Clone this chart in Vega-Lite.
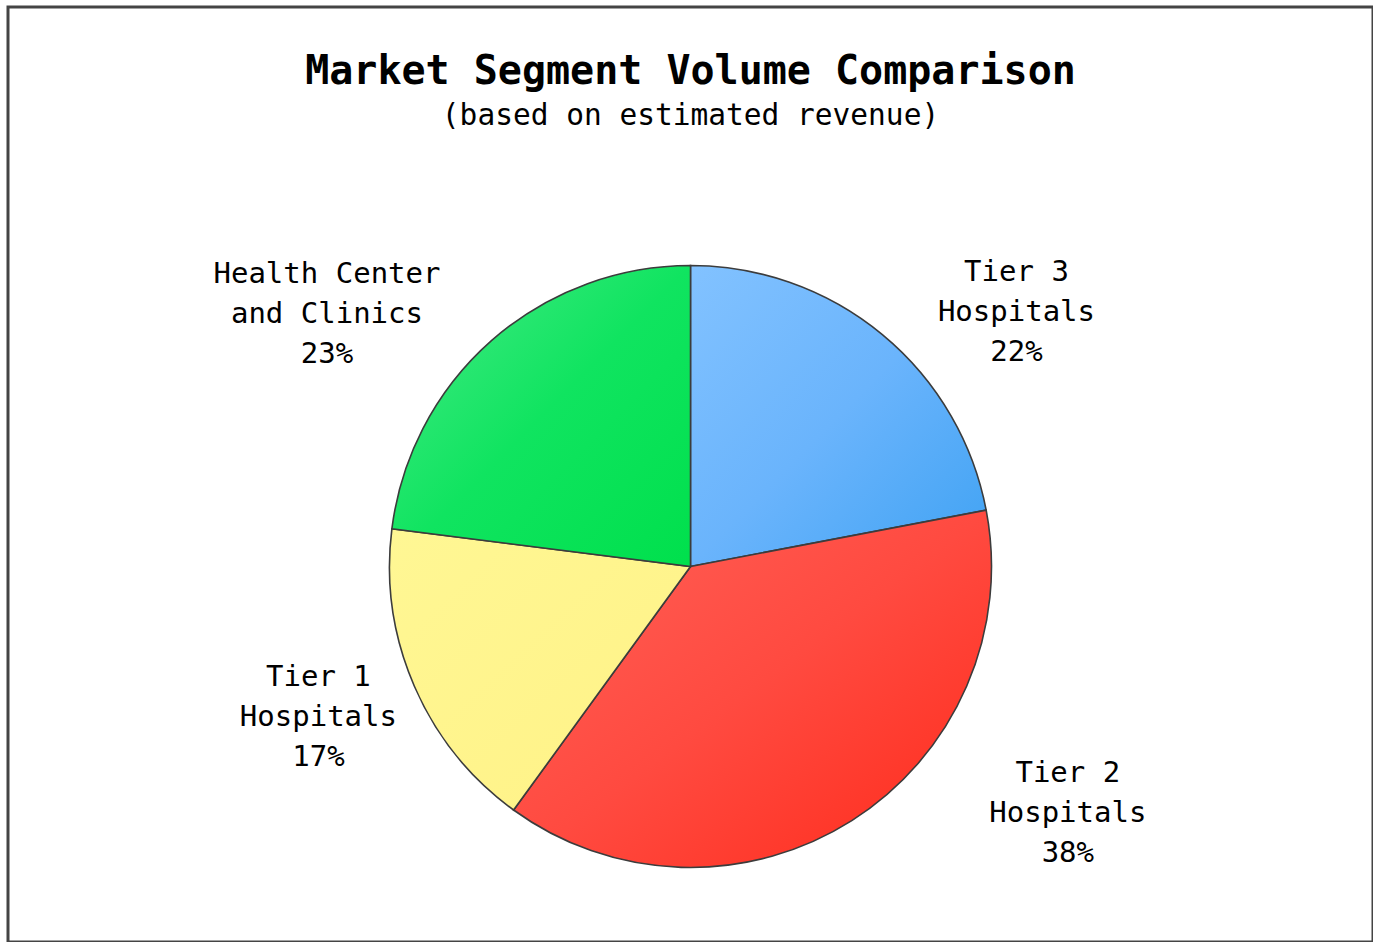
{
  "$schema": "https://vega.github.io/schema/vega-lite/v6.json",
  "width": 1365,
  "height": 935,
  "autosize": {"type": "none"},
  "padding": {"left": 8, "top": 7, "right": 0, "bottom": 0},
  "background": "white",
  "config": {
    "view": {"stroke": null},
    "font": "DejaVu Sans Mono"
  },
  "title": {
    "text": "Market Segment Volume Comparison",
    "subtitle": "(based on estimated revenue)",
    "orient": "top",
    "anchor": "middle",
    "offset": -125,
    "font": "DejaVu Sans Mono",
    "fontSize": 40,
    "fontWeight": "bold",
    "color": "#000000",
    "subtitleFont": "DejaVu Sans Mono",
    "subtitleFontSize": 29.5,
    "subtitleColor": "#000000",
    "subtitlePadding": 10
  },
  "data": {
    "values": [
      {"segment": "Tier 3 Hospitals", "value": 22, "order": 1, "label": "Tier 3\nHospitals\n22%"},
      {"segment": "Tier 2 Hospitals", "value": 38, "order": 2, "label": "Tier 2\nHospitals\n38%"},
      {"segment": "Tier 1 Hospitals", "value": 17, "order": 3, "label": "Tier 1\nHospitals\n17%"},
      {"segment": "Health Center and Clinics", "value": 23, "order": 4, "label": "Health Center\nand Clinics\n23%"}
    ]
  },
  "transform": [
    {"stack": "value", "groupby": [], "sort": [{"field": "order", "order": "ascending"}], "as": ["v0", "v1"]},
    {"calculate": "(datum.v0 + datum.v1) / 2", "as": "vmid"}
  ],
  "layer": [
    {
      "transform": [{"filter": "datum.order == 1"}],
      "mark": {"type": "rect", "fill": "transparent", "stroke": "#444444", "strokeWidth": 3},
      "encoding": {}
    },
    {
      "transform": [{"filter": "datum.order == 1"}],
      "layer": [
        {
          "mark": {"type": "arc", "radius": 301, "yOffset": 92, "stroke": "#3c3c3c", "strokeWidth": 1.6,
            "color": {"gradient": "linear", "x1": 0, "y1": 0, "x2": 1, "y2": 1,
              "stops": [{"offset": 0, "color": "#82c2ff"}, {"offset": 0.5, "color": "#6ab4fc"}, {"offset": 1, "color": "#3fa2f3"}]}},
          "encoding": {
            "theta": {"field": "v0", "type": "quantitative", "scale": {"domain": [0, 100]}},
            "theta2": {"field": "v1"}
          }
        },
        {
          "mark": {"type": "text", "radius": 400, "yOffset": 92, "dx": 71, "dy": 14, "fontSize": 29, "lineHeight": 40, "lineBreak": "\n", "align": "center", "baseline": "middle", "font": "DejaVu Sans Mono", "color": "#000000"},
          "encoding": {
            "theta": {"field": "vmid", "type": "quantitative", "scale": {"domain": [0, 100]}},
            "text": {"field": "label"}
          }
        }
      ]
    },
    {
      "transform": [{"filter": "datum.order == 2"}],
      "layer": [
        {
          "mark": {"type": "arc", "radius": 301, "yOffset": 92, "stroke": "#3c3c3c", "strokeWidth": 1.6,
            "color": {"gradient": "linear", "x1": 0, "y1": 0, "x2": 1, "y2": 1,
              "stops": [{"offset": 0, "color": "#ff6259"}, {"offset": 0.5, "color": "#ff4a40"}, {"offset": 1, "color": "#ff2a1a"}]}},
          "encoding": {
            "theta": {"field": "v0", "type": "quantitative", "scale": {"domain": [0, 100]}},
            "theta2": {"field": "v1"}
          }
        },
        {
          "mark": {"type": "text", "radius": 400, "yOffset": 92, "dx": 163, "dy": -131, "fontSize": 29, "lineHeight": 40, "lineBreak": "\n", "align": "center", "baseline": "middle", "font": "DejaVu Sans Mono", "color": "#000000"},
          "encoding": {
            "theta": {"field": "vmid", "type": "quantitative", "scale": {"domain": [0, 100]}},
            "text": {"field": "label"}
          }
        }
      ]
    },
    {
      "transform": [{"filter": "datum.order == 3"}],
      "layer": [
        {
          "mark": {"type": "arc", "radius": 301, "yOffset": 92, "stroke": "#3c3c3c", "strokeWidth": 1.6,
            "color": {"gradient": "linear", "x1": 0, "y1": 0, "x2": 1, "y2": 1,
              "stops": [{"offset": 0, "color": "#fff794"}, {"offset": 1, "color": "#fff286"}]}},
          "encoding": {
            "theta": {"field": "v0", "type": "quantitative", "scale": {"domain": [0, 100]}},
            "theta2": {"field": "v1"}
          }
        },
        {
          "mark": {"type": "text", "radius": 400, "yOffset": 92, "dx": -5, "dy": -48, "fontSize": 29, "lineHeight": 40, "lineBreak": "\n", "align": "center", "baseline": "middle", "font": "DejaVu Sans Mono", "color": "#000000"},
          "encoding": {
            "theta": {"field": "vmid", "type": "quantitative", "scale": {"domain": [0, 100]}},
            "text": {"field": "label"}
          }
        }
      ]
    },
    {
      "transform": [{"filter": "datum.order == 4"}],
      "layer": [
        {
          "mark": {"type": "arc", "radius": 301, "yOffset": 92, "stroke": "#3c3c3c", "strokeWidth": 1.6,
            "color": {"gradient": "linear", "x1": 0, "y1": 0, "x2": 1, "y2": 1,
              "stops": [{"offset": 0, "color": "#48ea88"}, {"offset": 0.5, "color": "#10e460"}, {"offset": 1, "color": "#00e04c"}]}},
          "encoding": {
            "theta": {"field": "v0", "type": "quantitative", "scale": {"domain": [0, 100]}},
            "theta2": {"field": "v1"}
          }
        },
        {
          "mark": {"type": "text", "radius": 400, "yOffset": 92, "dx": -99, "dy": 8, "fontSize": 29, "lineHeight": 40, "lineBreak": "\n", "align": "center", "baseline": "middle", "font": "DejaVu Sans Mono", "color": "#000000"},
          "encoding": {
            "theta": {"field": "vmid", "type": "quantitative", "scale": {"domain": [0, 100]}},
            "text": {"field": "label"}
          }
        }
      ]
    }
  ]
}
